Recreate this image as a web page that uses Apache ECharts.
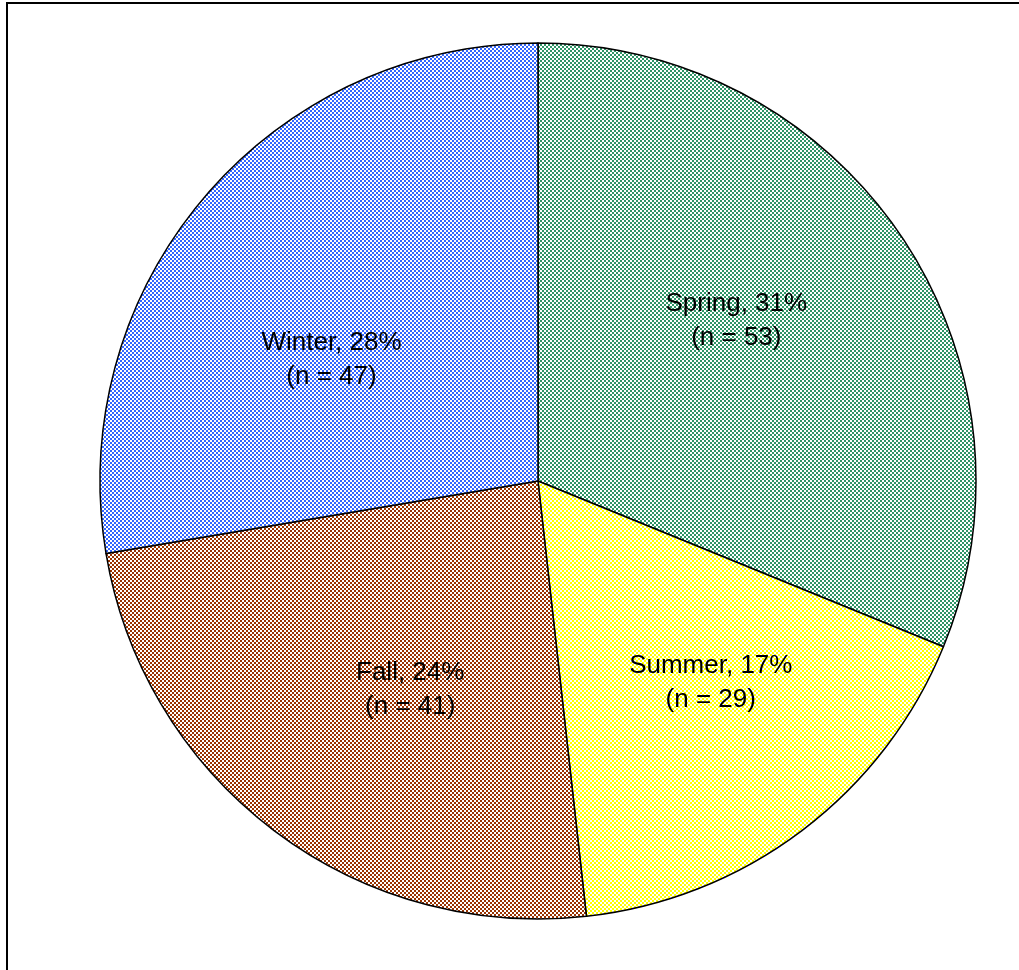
<!DOCTYPE html>
<html>
<head>
<meta charset="utf-8">
<style>
  html, body { margin: 0; padding: 0; background: #fff; }
  #frame { position: absolute; left: 6px; top: 2px; width: 1030px; height: 990px;
           border-left: 2px solid #000; border-top: 2px solid #000; }
  #chart { position: absolute; left: 0; top: 0; width: 1019px; height: 970px; }
</style>
<script src="https://cdn.jsdelivr.net/npm/echarts@6/dist/echarts.min.js"></script>
</head>
<body>
<div id="frame"></div>
<div id="chart"></div>
<script>
// Seasonal counts
const seasons = ['Spring', 'Summer', 'Fall', 'Winter'];
const counts = [53, 29, 41, 47];
const baseColors = ['#2E9466', '#FFFF00', '#993300', '#3366FF'];
// Label nudges (px) away from the default inside position
const labelShift = [[14, -36], [39, 25], [6, 32], [-37, 22]];

// Two-colour checkerboard fill (colour / white), 2px cells
function checker(color) {
  const c = document.createElement('canvas');
  c.width = 8; c.height = 8;
  const g = c.getContext('2d');
  g.fillStyle = '#ffffff';
  g.fillRect(0, 0, 8, 8);
  g.fillStyle = color;
  for (let y = 0; y < 8; y += 2) {
    for (let x = 0; x < 8; x += 2) {
      if (((x + y) / 2) % 2 === 0) g.fillRect(x, y, 2, 2);
    }
  }
  return { image: c, repeat: 'repeat' };
}

const total = counts.reduce((a, b) => a + b, 0);
const data = seasons.map((s, i) => ({
  name: s,
  value: counts[i],
  itemStyle: { color: checker(baseColors[i]) }
}));

const chart = echarts.init(document.getElementById('chart'), null, { renderer: 'canvas', devicePixelRatio: 1 });
chart.setOption({
  animation: false,
  series: [{
    type: 'pie',
    center: [538, 481],
    radius: 438,
    startAngle: 90,
    clockwise: true,
    avoidLabelOverlap: false,
    data: data,
    itemStyle: { borderColor: '#000', borderWidth: 1.5 },
    label: {
      show: true,
      position: 'inside',
      fontFamily: 'Liberation Sans, Arial, sans-serif',
      fontSize: 26,
      lineHeight: 34,
      color: '#000',
      align: 'center',
      formatter: p => p.name + ', ' + Math.round(p.value / total * 100) + '%\n(n = ' + p.value + ')'
    },
    labelLine: { show: false },
    emphasis: { disabled: true },
    labelLayout: p => ({ dx: labelShift[p.dataIndex][0], dy: labelShift[p.dataIndex][1] })
  }]
});
</script>
</body>
</html>
